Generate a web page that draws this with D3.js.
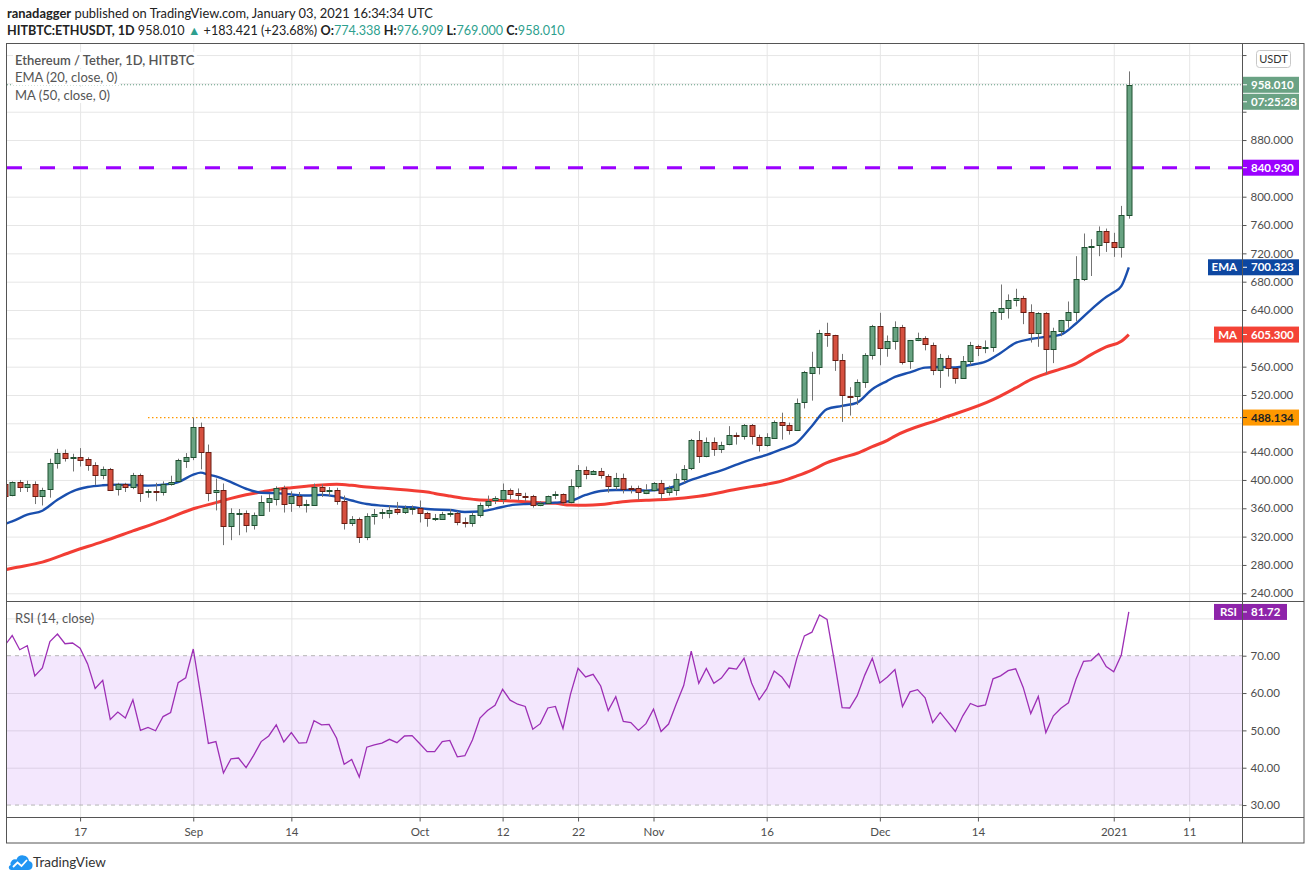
<!DOCTYPE html>
<html>
<head>
<meta charset="utf-8">
<script src="https://cdnjs.cloudflare.com/ajax/libs/d3/7.8.5/d3.min.js"></script>
<style>
  body { margin: 0; background: #fff; }
  svg { display: block; font-family: Lato, "Noto Sans", sans-serif; }
</style>
</head>
<body>
<svg id="chart" width="1311" height="881"></svg>
<script>
// daily candles, 2020-08-07 .. 2021-01-03
const firstDay = "2020-08-07", lastDay = "2021-01-04";

const opens = [
  395,378,397,390,394,378,387,424,438,431,433,429,421,407,416,387,394,390,407,382,385,383,394,398,428,
  433,475,440,383,386,335,352,354,337,351,369,374,389,367,377,364,365,390,384,386,371,340,345,320,349,353,354,359,355,359,
  360,353,346,345,352,354,341,339,351,365,371,373,386,381,378,378,365,368,378,380,368,391,414,408,412,406,392,403,388,388,382,
  386,396,383,387,402,416,456,434,454,444,450,463,462,477,461,449,460,482,478,471,509,552,560,608,605,569,519,518,538,576,
  617,586,596,616,567,597,600,591,555,572,558,544,568,589,586,588,637,643,654,657,637,608,636,585,611,626,637,684,729,732,752,
  736,729,774.338
];
const highs = [
  397,398,400,399,398,389,430,444,443,437,445,432,425,419,417,396,396,410,409,387,396,398,406,430,438,
  488.134,481,450,402,395,360,359,357,354,378,380,391,392,384,383,372,395,394,390,389,378,349,347,353,359,359,364,369,364,364,
  371,355,352,355,359,356,347,354,368,378,377,395,388,388,382,379,370,378,384,381,401,421,419,414,417,408,410,409,392,392,394,
  397,400,392,409,421,458,469,460,460,454,476,467,479,479,464,466,484,495,481,515,554,581,612,622,605,578,531,542,579,619,
  636,604,624,619,597,608,603,594,578,576,558,575,595,591,597,640,676,662,670,660,648,637,637,615,626,652,716,748,740,758,755,
  749,787,976.909
];
const lows = [
  376,377,383,383,366,364,375,416,426,412,419,413,393,401,385,378,383,387,369,375,370,378,392,397,417,
  428,415,370,357,308,315,322,326,330,350,355,364,354,355,361,354,364,376,377,365,330,335,311,315,337,345,346,351,352,351,
  340,334,342,344,348,336,333,334,347,361,366,366,373,371,370,361,363,367,373,365,367,388,401,407,402,382,386,381,381,372,380,
  384,372,378,378,396,414,424,432,434,438,449,450,457,450,440,447,459,457,464,470,501,512,549,588,554,482,491,506,530,570,
  562,574,584,563,557,596,583,548,530,546,536,543,562,575,579,581,626,628,645,620,594,588,550,565,603,615,624,681,688,716,722,
  715,714,769
];
const closes = [
  378,397,390,394,377,386,424,438,431,433,429,421,407,416,387,394,390,407,382,384,383,394,397,428,433,
  475,440,382,386,335,353,354,337,351,369,374,389,367,377,364,366,390,384,386,371,340,345,320,349,352,355,358,355,360,360,
  353,346,347,352,354,341,339,351,365,371,374,386,381,378,377,365,368,378,380,368,391,414,408,412,406,392,403,387,386,382,386,
  396,382,388,402,416,456,434,454,444,450,463,462,477,461,449,460,482,478,471,509,552,560,608,605,570,519,518,538,576,617,
  586,596,616,567,597,600,591,555,572,558,544,568,591,586,588,637,643,654,657,637,608,636,585,611,626,637,684,729,731,752,736,
  729,774,958.01
];

// RSI (14, close), one value per candle
const rsiValues = [
  72.7,75.4,71.6,72.7,64.6,66.7,73.8,75.8,73.2,73.4,72.0,67.8,61.2,63.4,52.9,54.9,53.3,58.2,50.0,50.8,49.9,53.7,54.8,62.8,64.1,
  71.8,59.3,46.5,47.0,38.6,42.4,42.6,40.0,43.3,47.0,48.5,51.5,46.9,49.4,46.6,46.7,52.6,51.5,51.6,47.9,40.9,42.2,37.5,45.5,46.1,46.6,47.6,46.7,48.5,48.6,
  46.5,44.3,44.3,47.0,47.3,42.9,43.2,47.4,53.3,55.3,56.7,61.0,58.1,57.0,56.4,50.3,51.8,56.0,56.4,50.5,59.7,66.6,64.3,65.0,61.9,55.3,59.0,52.4,52.1,50.0,51.8,
  55.7,49.7,51.7,57.0,62.0,71.2,62.6,66.6,62.6,64.0,66.7,66.4,69.3,62.7,58.2,61.1,65.9,64.3,61.5,69.3,75.3,76.3,80.9,79.7,68.2,56.1,56.0,59.3,64.8,69.3,
  62.7,64.3,66.3,56.4,60.3,60.9,58.7,52.1,54.8,52.3,49.7,53.9,57.2,56.4,56.8,63.8,64.6,66.0,66.5,61.5,54.5,59.1,49.4,53.9,55.9,57.4,63.7,68.5,68.7,70.6,67.1,
  65.7,70.2,81.72
];

// EMA (20)
const emaDates = ["2020-08-07","2020-08-08","2020-08-10","2020-08-12","2020-08-14","2020-08-16","2020-08-18","2020-08-20","2020-08-22","2020-08-24","2020-08-26","2020-08-28","2020-08-30",
  "2020-09-01","2020-09-02","2020-09-03","2020-09-04","2020-09-06","2020-09-08","2020-09-10","2020-09-12","2020-09-14","2020-09-16","2020-09-18","2020-09-20","2020-09-22","2020-09-24","2020-09-26","2020-09-28","2020-09-30",
  "2020-10-02","2020-10-03","2020-10-05","2020-10-07","2020-10-09","2020-10-11","2020-10-13","2020-10-15","2020-10-17","2020-10-19","2020-10-21","2020-10-23","2020-10-25","2020-10-27","2020-10-29","2020-10-31",
  "2020-11-02","2020-11-04","2020-11-06","2020-11-08","2020-11-10","2020-11-12","2020-11-14","2020-11-16","2020-11-18","2020-11-20","2020-11-22","2020-11-24","2020-11-26","2020-11-28","2020-11-30",
  "2020-12-02","2020-12-03","2020-12-05","2020-12-07","2020-12-09","2020-12-11","2020-12-13","2020-12-15","2020-12-17","2020-12-19","2020-12-21","2020-12-23","2020-12-25","2020-12-27","2020-12-29","2020-12-31",
  "2021-01-01","2021-01-02","2021-01-03"];
const emaValues = [338,341.5,351,356.6,372,384,390,392.5,393.4,393,392,393.4,397,
  407.5,410.4,407.5,405,397,387.6,382,381.4,379.5,378,379,376.7,371,366,363.8,362.4,361.4,
  359,358.3,357.6,354.8,355.5,359.5,364.2,366,366.6,368,370.4,378.8,384.5,385.9,385.9,385,
  386.5,391.5,400,407,413.7,421.7,429.2,435.3,443.4,452.8,476.3,500,504.6,509.3,528.2,
  540,545.5,552,558.6,559.6,559,562.4,567,579.4,593.5,599,602,605.3,621,640.6,658.5,
  665,673.6,700.323];

// MA (50)
const maDates = ["2020-08-07","2020-08-08","2020-08-12","2020-08-16","2020-08-20","2020-08-24","2020-08-28",
  "2020-09-01","2020-09-04","2020-09-06","2020-09-08","2020-09-10","2020-09-12","2020-09-14","2020-09-16","2020-09-18","2020-09-20","2020-09-22","2020-09-24","2020-09-26","2020-09-28","2020-09-30",
  "2020-10-02","2020-10-03","2020-10-05","2020-10-07","2020-10-09","2020-10-11","2020-10-13","2020-10-15","2020-10-17","2020-10-19","2020-10-21","2020-10-23","2020-10-25","2020-10-27","2020-10-29","2020-10-31",
  "2020-11-03","2020-11-07","2020-11-12","2020-11-14","2020-11-16","2020-11-18","2020-11-20","2020-11-22","2020-11-24","2020-11-26","2020-11-28","2020-11-30",
  "2020-12-02","2020-12-03","2020-12-09","2020-12-16","2020-12-19","2020-12-21","2020-12-23","2020-12-25","2020-12-27","2020-12-29","2020-12-31",
  "2021-01-02","2021-01-03"];
const maValues = [273,275.4,284,299,313,328,343,
  359.4,368,374,379,383,386.7,389,391,393,393.8,392.4,390,388.6,387,385,
  383,381,377.4,374,371.8,371.3,370.4,369.4,368,367,364.5,364.2,365.2,368,370.4,371.3,
  372.7,377,386.8,390.6,394,398.6,405.7,414,424.5,431.6,437.7,447,
  456,462,486,513.4,530,541.7,550,556.8,564.3,577,587.9,
  595.9,605.3];

// drawn levels
const resistance = 840.93;
const support = 488.134, supportFrom = "2020-08-26";

const priceTicks = d3.range(240, 1001, 40);
const rsiTicks = [30, 40, 50, 60, 70, 80];
const timeTickDates = ["2020-08-17","2020-09-01","2020-09-14","2020-10-01","2020-10-12","2020-10-22","2020-11-01","2020-11-16","2020-12-01","2020-12-14","2021-01-01","2021-01-11"];
const timeTickLabels = ["17","Sep","14","Oct","12","22","Nov","16","Dec","14","2021","11"];

// ---------------------------------------------------------------
const L = 7, R = 1242, AR = 1304, T = 44, PB = 601, RB = 817, TB = 843;
const green = "#68a382", greenEdge = "#1f5030", red = "#d6503f", redEdge = "#6a1c12";
const gridColor = "#e6e6e6", axisText = "#4d4d4d";
const fmt3 = d3.format(".3f"), fmt2 = d3.format(".2f");

const parse = d3.utcParse("%Y-%m-%d");
const dates = d3.utcDay.range(parse(firstDay), parse(lastDay));
const candles = dates.map((d, i) => ({ date: d, o: opens[i], h: highs[i], l: lows[i], c: closes[i], rsi: rsiValues[i] }));

const x = d3.scaleUtc()
  .domain([new Date("2020-08-07T07:30:00Z"), new Date("2021-01-18T00:00:00Z")])
  .range([L, R]);
const y = d3.scaleLinear().domain([229.1, 1015.6]).range([PB, T]);
const yr = d3.scaleLinear().domain([26.8, 84.65]).range([RB, PB]);

const lastClose = closes[closes.length - 1];
const lastEma = emaValues[emaValues.length - 1];
const lastMa = maValues[maValues.length - 1];
const lastRsi = rsiValues[rsiValues.length - 1];

// pixel rows taken by the value tags on the right scale
const tagRows = [y(lastClose), y(lastClose) + 17, y(resistance), y(lastEma), y(lastMa), y(support), yr(lastRsi), 59];
const freeRow = py => tagRows.every(r => Math.abs(r - py) > 11);

const svg = d3.select("#chart");
const defs = svg.append("defs");
defs.append("clipPath").attr("id", "clipP").append("rect").attr("x", L).attr("y", T).attr("width", R - L).attr("height", PB - T);
defs.append("clipPath").attr("id", "clipR").append("rect").attr("x", L).attr("y", PB).attr("width", R - L).attr("height", RB - PB);

// header
const head = svg.append("g").attr("fill", "#222");
head.append("text").attr("x", 7).attr("y", 18).attr("font-size", 12.9)
  .call(t => {
    t.append("tspan").attr("font-weight", "bold").text("ranadagger");
    t.append("tspan").text(" published on TradingView.com, January 03, 2021 16:34:34 UTC");
  });
const teal = "#2e9f8e";
head.append("text").attr("x", 7).attr("y", 35).attr("font-size", 12.6)
  .call(t => {
    t.append("tspan").attr("font-weight", "bold").text("HITBTC:ETHUSDT, 1D");
    t.append("tspan").text(" 958.010 ");
    t.append("tspan").attr("fill", teal).text("▲");
    t.append("tspan").text(" +183.421 (+23.68%) ");
    [["O:", "774.338"], ["H:", "976.909"], ["L:", "769.000"], ["C:", "958.010"]].forEach(([k, v], i) => {
      t.append("tspan").attr("font-weight", "bold").text((i ? " " : "") + k);
      t.append("tspan").attr("fill", teal).text(v);
    });
  });

// grids
svg.append("g").attr("transform", `translate(${L},0)`)
  .call(d3.axisRight(y).tickValues(priceTicks).tickSize(R - L).tickFormat(""))
  .call(g => g.select(".domain").remove())
  .call(g => g.selectAll("line").attr("stroke", gridColor));
svg.append("g").attr("transform", `translate(${L},0)`)
  .call(d3.axisRight(yr).tickValues([40, 50, 60, 80]).tickSize(R - L).tickFormat(""))
  .call(g => g.select(".domain").remove())
  .call(g => g.selectAll("line").attr("stroke", gridColor));
svg.append("g").attr("transform", `translate(0,${T})`)
  .call(d3.axisBottom(x).tickValues(timeTickDates.map(parse)).tickSize(RB - T).tickFormat(""))
  .call(g => g.select(".domain").remove())
  .call(g => g.selectAll("line").attr("stroke", gridColor));

// RSI band
svg.append("rect").attr("x", L).attr("width", R - L)
  .attr("y", yr(70)).attr("height", yr(30) - yr(70))
  .attr("fill", "rgba(150,40,240,0.11)");
[70, 30].forEach(v => svg.append("line").attr("x1", L).attr("x2", R).attr("y1", yr(v)).attr("y2", yr(v))
  .attr("stroke", "#b5b5b5").attr("stroke-dasharray", "4,4"));

// price pane marks
const pane = svg.append("g").attr("clip-path", "url(#clipP)");

// last price dotted line
pane.append("line").attr("x1", L).attr("x2", R).attr("y1", y(lastClose)).attr("y2", y(lastClose))
  .attr("stroke", "#5f9c80").attr("stroke-dasharray", "1,2");

// support level ray
pane.append("line").attr("x1", x(parse(supportFrom))).attr("x2", R).attr("y1", y(support)).attr("y2", y(support))
  .attr("stroke", "#ff9800").attr("stroke-width", 1.3).attr("stroke-dasharray", "1.5,2.5");

// resistance level
pane.append("line").attr("x1", L).attr("x2", R).attr("y1", y(resistance)).attr("y2", y(resistance))
  .attr("stroke", "#9a00ff").attr("stroke-width", 3).attr("stroke-dasharray", "15,18");

// moving averages
const lineOf = (ds, vs) => ds.map((d, i) => [parse(d), vs[i]]);
const curve = d3.line().x(d => x(d[0])).y(d => y(d[1])).curve(d3.curveMonotoneX);
pane.append("path").attr("d", curve(lineOf(maDates, maValues)))
  .attr("fill", "none").attr("stroke", "#f23d34").attr("stroke-width", 3);
pane.append("path").attr("d", curve(lineOf(emaDates, emaValues)))
  .attr("fill", "none").attr("stroke", "#1a4fae").attr("stroke-width", 2.4);

// candles
const bar = pane.selectAll("g.candle").data(candles).join("g").attr("class", "candle");
bar.append("line")
  .attr("x1", d => Math.round(x(d.date)) + 0.5).attr("x2", d => Math.round(x(d.date)) + 0.5)
  .attr("y1", d => y(d.h)).attr("y2", d => y(d.l))
  .attr("stroke", "#737373").attr("stroke-width", 1);
bar.append("rect")
  .attr("x", d => Math.round(x(d.date)) - 2)
  .attr("y", d => Math.round(y(Math.max(d.o, d.c))) + 0.5)
  .attr("width", 5)
  .attr("height", d => Math.max(1, Math.round(Math.abs(y(d.o) - y(d.c)))))
  .attr("fill", d => d.c >= d.o ? green : red)
  .attr("stroke", d => d.c >= d.o ? greenEdge : redEdge)
  .attr("stroke-width", 1);

// RSI line
svg.append("path").attr("clip-path", "url(#clipR)")
  .attr("d", d3.line().x(d => x(d.date)).y(d => yr(d.rsi))(candles))
  .attr("fill", "none").attr("stroke", "#9d2fb5").attr("stroke-width", 1.3);

// legends
const legend = svg.append("g").attr("font-size", 13).attr("fill", "#555");
[["Ethereum / Tether, 1D, HITBTC", 65, "600"], ["EMA (20, close, 0)", 82, "normal"], ["MA (50, close, 0)", 100, "normal"]]
  .forEach(([s, yy, w]) => {
    const t = legend.append("text").attr("x", 15).attr("y", yy).attr("font-weight", w).text(s);
    const b = t.node().getBBox();
    legend.insert("rect", "text").attr("x", b.x - 2).attr("y", b.y).attr("width", b.width + 4).attr("height", b.height)
      .attr("fill", "#fff");
  });
legend.append("text").attr("x", 15).attr("y", 623).text("RSI (14, close)");

// frame
const frame = svg.append("g").attr("stroke", "#555").attr("fill", "none");
frame.append("rect").attr("x", 6.5).attr("y", 43.5).attr("width", AR - 6.5).attr("height", TB - 43.5);
frame.append("line").attr("x1", R + 0.5).attr("x2", R + 0.5).attr("y1", T).attr("y2", TB);
frame.append("line").attr("x1", 6.5).attr("x2", AR).attr("y1", PB + 0.5).attr("y2", PB + 0.5);
frame.append("line").attr("x1", 6.5).attr("x2", AR).attr("y1", RB + 0.5).attr("y2", RB + 0.5);

// price and RSI scales (labels that sit under a value tag are left out, as in the original)
function rightAxis(scale, ticks, f) {
  svg.append("g").attr("transform", `translate(${R + 0.5},0)`)
    .call(d3.axisRight(scale).tickValues(ticks).tickSize(4).tickPadding(4)
      .tickFormat(d => freeRow(scale(d)) ? f(d) : ""))
    .call(g => g.select(".domain").remove())
    .call(g => g.selectAll("line").attr("stroke", "#555"))
    .call(g => g.selectAll("text").attr("fill", axisText).attr("font-size", 11.5)
      .attr("font-family", "Lato, 'Noto Sans', sans-serif"));
}
rightAxis(y, priceTicks, fmt3);
rightAxis(yr, rsiTicks, fmt2);

// time axis
svg.append("g").attr("transform", `translate(0,${RB + 0.5})`)
  .call(d3.axisBottom(x).tickValues(timeTickDates.map(parse)).tickSize(4).tickPadding(6)
    .tickFormat((d, i) => timeTickLabels[i]))
  .call(g => g.select(".domain").remove())
  .call(g => g.selectAll("line").attr("stroke", "#555"))
  .call(g => g.selectAll("text").attr("fill", axisText).attr("font-size", 11.5)
    .attr("font-family", "Lato, 'Noto Sans', sans-serif"));

// value tags on the price scale
function tag(cy, label, fill, color, w = 56) {
  const g = svg.append("g");
  g.append("rect").attr("x", R + 1).attr("y", cy - 8).attr("width", w).attr("height", 16).attr("fill", fill);
  g.append("line").attr("x1", R + 1).attr("x2", R + 5).attr("y1", cy).attr("y2", cy).attr("stroke", color);
  g.append("text").attr("x", R + 9).attr("y", cy + 4).attr("font-size", 11.5).attr("font-weight", "bold")
    .attr("fill", color).text(label);
}
function nameTag(cy, label, fill, x0) {
  svg.append("rect").attr("x", x0).attr("y", cy - 8).attr("width", R - x0).attr("height", 16).attr("fill", fill);
  svg.append("text").attr("x", R - 5).attr("y", cy + 4).attr("text-anchor", "end").attr("font-size", 11.5)
    .attr("font-weight", "bold").attr("fill", "#fff").text(label);
}
tag(y(lastClose), fmt3(lastClose), "#6aa284", "#fff");
tag(y(lastClose) + 17, "07:25:28", "#6aa284", "#fff");
tag(y(resistance), fmt3(resistance), "#9a00ff", "#fff");
tag(y(lastEma), fmt3(lastEma), "#0d47a1", "#fff");
nameTag(y(lastEma), "EMA", "#0d47a1", 1208);
tag(y(lastMa), fmt3(lastMa), "#f44336", "#fff");
nameTag(y(lastMa), "MA", "#f44336", 1214);
tag(y(support), fmt3(support), "#ff9800", "#222");
tag(yr(lastRsi), fmt2(lastRsi), "#8e24aa", "#fff", 44);
nameTag(yr(lastRsi), "RSI", "#8e24aa", 1214);

// currency box
svg.append("rect").attr("x", 1256.5).attr("y", 50.5).attr("width", 34).attr("height", 17).attr("rx", 3)
  .attr("fill", "#fff").attr("stroke", "#c8c8c8");
svg.append("text").attr("x", 1273.5).attr("y", 63).attr("text-anchor", "middle").attr("font-size", 11)
  .attr("fill", "#333").text("USDT");

// footer logo
const logo = svg.append("g");
logo.append("path").attr("d", "M11,870 h17 a4.5,4.5 0 0 0 1,-8.9 a6.5,6.5 0 0 0 -12.5,-1.6 a4.5,4.5 0 0 0 -5.8,5.4 a2.6,2.6 0 0 0 0.3,5.1 z")
  .attr("fill", "#2196f3");
logo.append("path").attr("d", "M13,867 l4.5,-4.5 l4,3.5 l5.5,-6").attr("fill", "none").attr("stroke", "#fff").attr("stroke-width", 1.8);
logo.append("text").attr("x", 33).attr("y", 867).attr("font-size", 13.5).attr("fill", "#333").text("TradingView");
</script>
</body>
</html>
